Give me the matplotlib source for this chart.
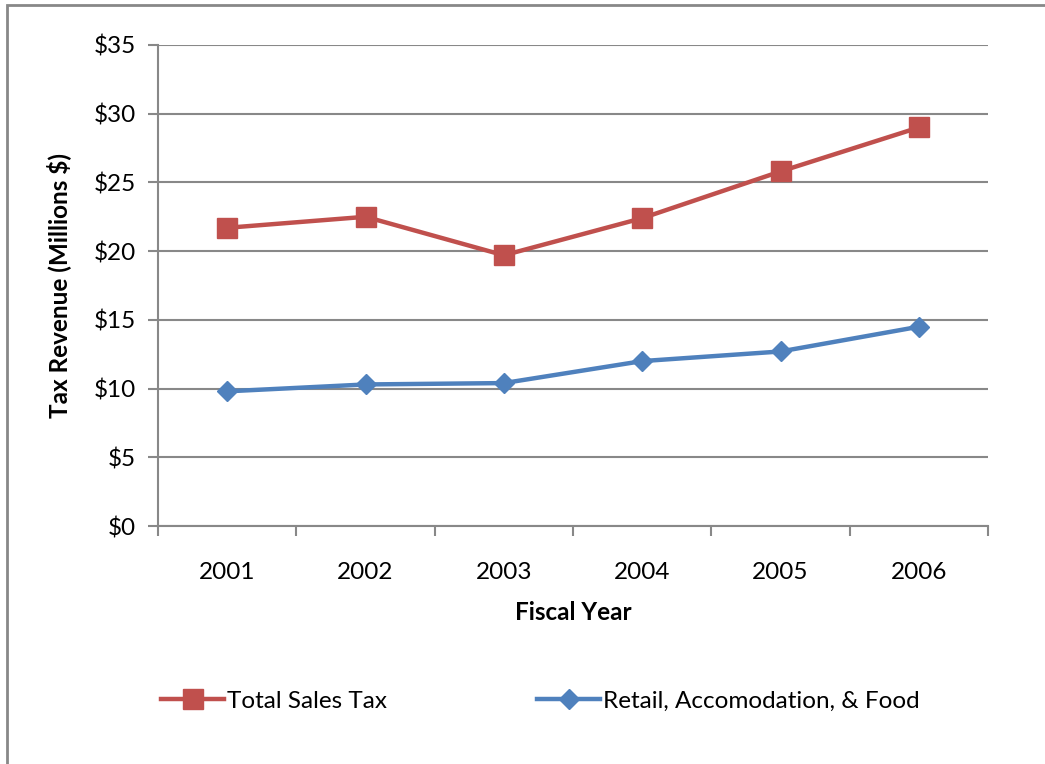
import matplotlib
matplotlib.use("Agg")
import matplotlib.pyplot as plt
from matplotlib.patches import Rectangle
from matplotlib.ticker import FuncFormatter

# Tax revenue by fiscal year, in millions of dollars
years = ["2001", "2002", "2003", "2004", "2005", "2006"]
total_sales_tax = [21.7, 22.5, 19.7, 22.4, 25.8, 29.0]
retail_accom_food = [9.8, 10.3, 10.4, 12.0, 12.7, 14.5]

plt.rcParams["font.family"] = ["Lato", "DejaVu Sans"]
fs = 17.5

fig = plt.figure(figsize=(10.45, 7.64), dpi=100)
ax = fig.add_axes([0.1512, 0.3115, 0.7943, 0.6296])

x = range(len(years))
ax.plot(x, total_sales_tax, color="#C0504D", lw=3.2, marker="s", ms=14,
        label="Total Sales Tax", zorder=3)
ax.plot(x, retail_accom_food, color="#4F81BD", lw=3.2, marker="D", ms=10.5,
        label="Retail, Accomodation, & Food", zorder=3)

grid_col = "#888888"
ax.set_xlim(-0.5, len(years) - 0.5)
ax.set_ylim(0, 35)
ax.set_yticks(range(0, 36, 5))
ax.yaxis.set_major_formatter(FuncFormatter(lambda v, p: f"${v:.0f}"))
ax.set_xticks(list(x))
ax.set_xticklabels(years)
ax.set_xticks([i - 0.5 for i in range(len(years) + 1)], minor=True)

ax.grid(axis="y", color=grid_col, lw=1.5)
ax.set_axisbelow(True)
for side in ["top", "right"]:
    ax.spines[side].set_visible(False)
for side in ["left", "bottom"]:
    ax.spines[side].set_color(grid_col)
    ax.spines[side].set_linewidth(1.5)

ax.tick_params(axis="y", length=7, width=1.5, color=grid_col, labelsize=fs, pad=9)
ax.tick_params(axis="x", which="major", length=0, labelsize=fs, pad=26)
ax.tick_params(axis="x", which="minor", length=7, width=1.5, color=grid_col)

ax.set_ylabel("Tax Revenue (Millions $)", fontsize=fs, fontweight="bold", labelpad=16)
ax.set_xlabel("Fiscal Year", fontsize=fs, fontweight="bold", labelpad=13)

fig.legend(loc="center", bbox_to_anchor=(0.517, 0.082), ncol=2, frameon=False,
           fontsize=fs, handlelength=2.6, handletextpad=0.1, columnspacing=6.2)

# outer frame of the chart area
fig.patches.append(Rectangle((7 / 1045, -0.05), 1.1, 0.05 + 1 - 5 / 764,
                             transform=fig.transFigure, fill=False,
                             edgecolor=grid_col, lw=2))

fig.savefig("out.png", dpi=100)
